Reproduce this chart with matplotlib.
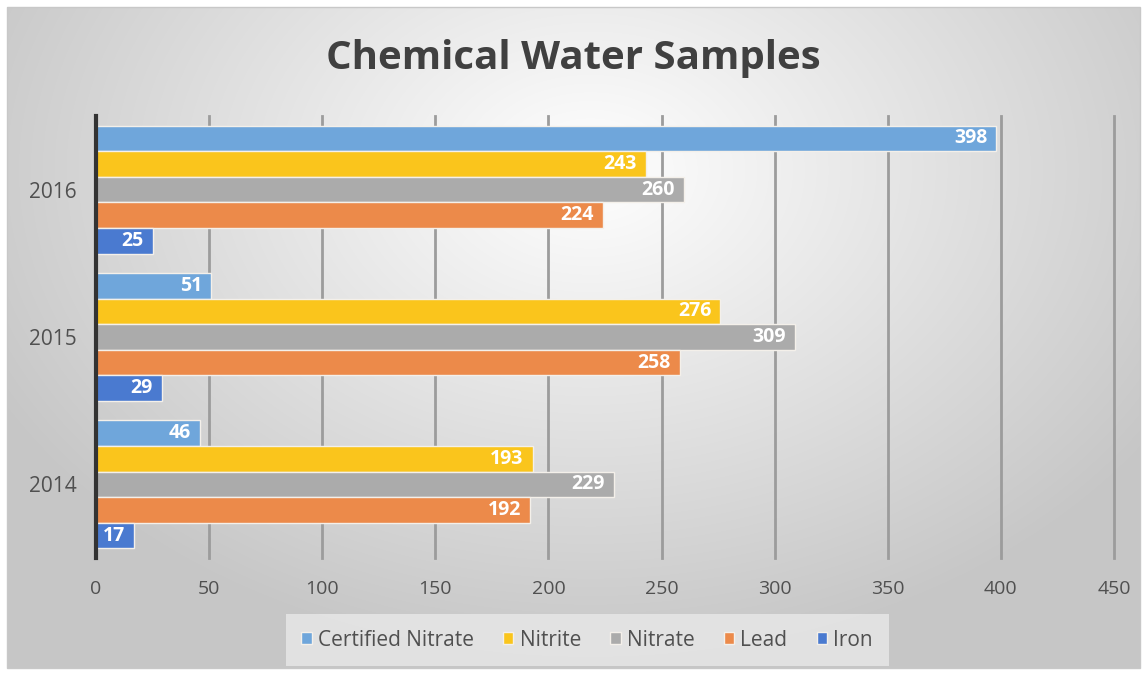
import numpy as np
import matplotlib.pyplot as plt
from matplotlib.patches import Rectangle

# data
years = ['2014', '2015', '2016']
series = ['Certified Nitrate', 'Nitrite', 'Nitrate', 'Lead', 'Iron']
certified_nitrate = [46, 51, 398]
nitrite = [193, 276, 243]
nitrate = [229, 309, 260]
lead = [192, 258, 224]
iron = [17, 29, 25]
values = [certified_nitrate, nitrite, nitrate, lead, iron]
colors = ['#6FA6DB', '#FAC51C', '#ABABAB', '#EC8A4A', '#4A7AD0']

plt.rcParams['font.family'] = ['Open Sans', 'DejaVu Sans']

fig = plt.figure(figsize=(11.47, 6.75), dpi=100)

# radial gradient background
bg = fig.add_axes([0, 0, 1, 1], zorder=-2)
yy, xx = np.mgrid[0:675, 0:1147]
r = np.sqrt(((xx - 590) / 850.0) ** 2 + ((yy - 170) / 620.0) ** 2)
shade = np.clip(1.0 - 0.28 * r, 0.78, 1.0)
img = np.dstack([shade, shade, shade])
img[:7, :] = 1
img[668:, :] = 1
img[:, :7] = 1
img[:, 1140:] = 1
bg.imshow(img, aspect='auto', extent=[0, 1147, 675, 0])
bg.add_patch(Rectangle((7, 7), 1133, 661, fill=False, ec='#C8C8C8', lw=1))
bg.set_xlim(0, 1147)
bg.set_ylim(675, 0)
bg.axis('off')

ax = fig.add_axes([96 / 1147, 1 - 558 / 675, (1114 - 96) / 1147, (558 - 116) / 675])
ax.set_facecolor('none')

n = len(series)
h = 0.87 / n
y = np.arange(len(years))
for i, (name, vals, c) in enumerate(zip(series, values, colors)):
    pos = y + (n - 1) / 2 * h - i * h
    bars = ax.barh(pos, vals, height=h, color=c, edgecolor='#F4F0EA', linewidth=1.0,
                   label=name, zorder=3)
    for b, v in zip(bars, vals):
        ax.text(b.get_width() - 4, b.get_y() + b.get_height() / 2, str(v),
                ha='right', va='center', color='white', fontsize=14,
                fontweight='bold', zorder=4)

ax.set_xlim(0, 450)
ax.set_ylim(-0.5, 2.5)
ax.set_xticks(np.arange(0, 451, 50))
ax.set_yticks(y)
ax.set_yticklabels(years)
ax.grid(axis='x', color='#9C9C9C', lw=2, zorder=1)
for gl in ax.get_xgridlines():
    gl.set_clip_on(False)
for s in ['top', 'right', 'bottom']:
    ax.spines[s].set_visible(False)
ax.spines['left'].set_color('#333333')
ax.spines['left'].set_linewidth(3)
ax.spines['left'].set_zorder(5)
ax.tick_params(axis='both', length=0, labelsize=14, colors='#505050')
ax.tick_params(axis='y', labelsize=15, pad=14)
ax.tick_params(axis='x', pad=16)

fig.text(0.5, 1 - 58 / 675, 'Chemical Water Samples', ha='center', va='center',
         fontsize=29, fontweight='bold', color='#404040')

leg = fig.legend(loc='center', bbox_to_anchor=(587 / 1147, 1 - 640 / 675), ncol=5,
                 frameon=True, fontsize=15, handlelength=0.5, handleheight=0.5,
                 handletextpad=0.3, columnspacing=1.4, borderpad=0.45)
leg.get_frame().set_facecolor('#E9E9E9')
leg.get_frame().set_edgecolor('none')
leg.get_frame().set_alpha(0.8)
leg.get_frame().set_boxstyle('square')
for t in leg.get_texts():
    t.set_color('#505050')

fig.savefig('out.png', dpi=100)
